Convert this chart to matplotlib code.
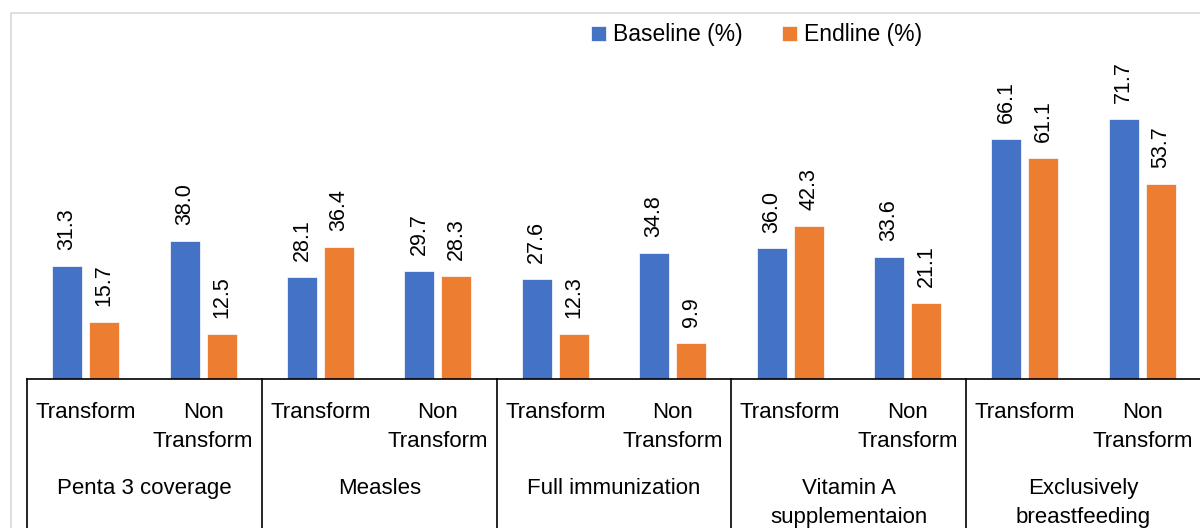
import numpy as np
import matplotlib
matplotlib.use("Agg")
from matplotlib import pyplot as plt
from matplotlib import transforms
from matplotlib.patches import Rectangle

plt.rcParams['font.family'] = ['Liberation Sans', 'DejaVu Sans']

# data
groups = ["Penta 3 coverage", "Measles", "Full immunization",
          "Vitamin A\nsupplementaion", "Exclusively\nbreastfeeding"]
subcats = ["Transform", "Non\nTransform"]
baseline = [31.3, 38.0, 28.1, 29.7, 27.6, 34.8, 36.0, 33.6, 66.1, 71.7]
endline = [15.7, 12.5, 36.4, 28.3, 12.3, 9.9, 42.3, 21.1, 61.1, 53.7]

blue = "#4472C4"
orange = "#ED7D31"

W, H = 1200, 528
fig = plt.figure(figsize=(12, 5.28), dpi=100)

def fy(py):
    # pixel row (from top) -> figure fraction
    return (H - py) / H

ax = fig.add_axes([27 / W, fy(379), 1174 / W, (379 - 40) / H])

n = len(baseline)
x = np.arange(n)
off = 0.158
bw = 0.256
b1 = ax.bar(x - off, baseline, bw, color=blue, edgecolor="white", linewidth=0.5,
            label="Baseline (%)")
b2 = ax.bar(x + off, endline, bw, color=orange, edgecolor="white", linewidth=0.5,
            label="Endline (%)")

for bars, vals in ((b1, baseline), (b2, endline)):
    for rect, v in zip(bars, vals):
        ax.annotate("%.1f" % v, (rect.get_x() + rect.get_width() / 2, v),
                    xytext=(0, 11.5), textcoords="offset points",
                    rotation=90, ha="center", va="bottom", fontsize=15.5,
                    color="#000000")

ax.set_xlim(-0.5, n - 0.5)
ax.set_ylim(0, 339 / 3.625)
ax.set_xticks([])
ax.set_yticks([])
for s in ("top", "right", "left"):
    ax.spines[s].set_visible(False)
ax.spines["bottom"].set_linewidth(1.2)
ax.spines["bottom"].set_color("black")

# group separators below the axis
sep = transforms.blended_transform_factory(ax.transData, ax.transAxes)
for g in range(len(groups) + 1):
    ax.plot([g * 2 - 0.5, g * 2 - 0.5], [0, -0.5], color="black", lw=1.2,
            transform=sep, clip_on=False)

# category labels
tr = transforms.blended_transform_factory(ax.transData, fig.transFigure)
for i in range(n):
    lines = subcats[i % 2].split("\n")
    for k, line in enumerate(lines):
        fig.text(i, fy(418 + 29 * k), line, transform=tr, ha="center",
                 va="baseline", fontsize=16)
for g, name in enumerate(groups):
    for k, line in enumerate(name.split("\n")):
        fig.text(g * 2 + 0.5, fy(494 + 29 * k), line, transform=tr,
                 ha="center", va="baseline", fontsize=16)

fig.legend(handles=[b1, b2], loc="center", bbox_to_anchor=(756.5 / W, fy(35)),
           ncol=2, frameon=False, fontsize=16.5, handlelength=0.65,
           handleheight=0.65, handletextpad=0.3, columnspacing=1.75,
           borderpad=0)

# chart frame
fig.patches.append(Rectangle((11 / W, -0.05), 1.0, fy(12.5) + 0.05,
                             transform=fig.transFigure, fill=False,
                             edgecolor="#d9d9d9", linewidth=1.2))

fig.savefig("out.png", dpi=100)
